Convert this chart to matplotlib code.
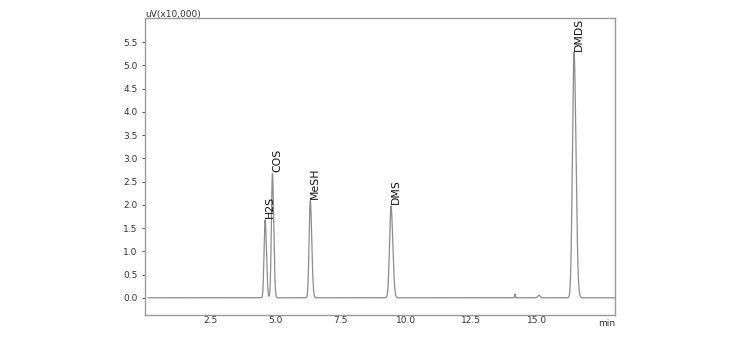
import numpy as np
import matplotlib.pyplot as plt

# peak table (min, uV x10,000, sigma in min)
names = ["H2S", "COS", "MeSH", "DMS", "DMDS"]
rt = [4.60, 4.88, 6.33, 9.42, 16.43]
height = [1.68, 2.67, 2.09, 1.98, 5.29]
sigma = [0.040, 0.040, 0.045, 0.055, 0.060]

# small unlabelled bumps
small_rt = [14.17, 15.08]
small_height = [0.08, 0.055]
small_sigma = [0.012, 0.04]

t = np.linspace(0.12, 18.0, 6000)
y = np.zeros_like(t)
for r, h, s in zip(rt + small_rt, height + small_height, sigma + small_sigma):
    # slight tailing on the right side
    sw = np.where(t > r, s * 1.25, s)
    y += h * np.exp(-0.5 * ((t - r) / sw) ** 2)

fig = plt.figure(figsize=(7.56, 3.43), dpi=100)
ax = fig.add_axes([145 / 756, 28 / 343, 470 / 756, 297 / 343])
ax.plot(t, y, color="#8c8c8c", lw=0.9)

for n, r, h in zip(names, rt, height):
    ax.text(r - 0.02, h + 0.03, n, rotation=90, ha="left", va="bottom",
            fontsize=7.8, color="#111111")

ax.set_xlim(0, 18)
ax.set_ylim(-0.37, 6.02)
ax.set_xticks([2.5, 5.0, 7.5, 10.0, 12.5, 15.0])
ax.set_xticklabels(["2.5", "5.0", "7.5", "10.0", "12.5", "15.0"])
ax.set_yticks(np.arange(0, 5.6, 0.5))
ax.set_yticklabels(["%.1f" % v for v in np.arange(0, 5.6, 0.5)])
ax.tick_params(labelsize=6.5, colors="#333333", length=2, width=0.6)
ax.tick_params(axis="x", length=0, pad=1)
for s in ax.spines.values():
    s.set_color("#9a9a9a")
    s.set_linewidth(1.0)

ax.text(1.0, -0.012, "min", transform=ax.transAxes, ha="right", va="top",
        fontsize=6.5, color="#333333")
ax.text(0.0, 0.995, "uV(x10,000)", transform=ax.transAxes, ha="left", va="bottom",
        fontsize=6.5, color="#333333")

fig.savefig("out.png", dpi=100)
